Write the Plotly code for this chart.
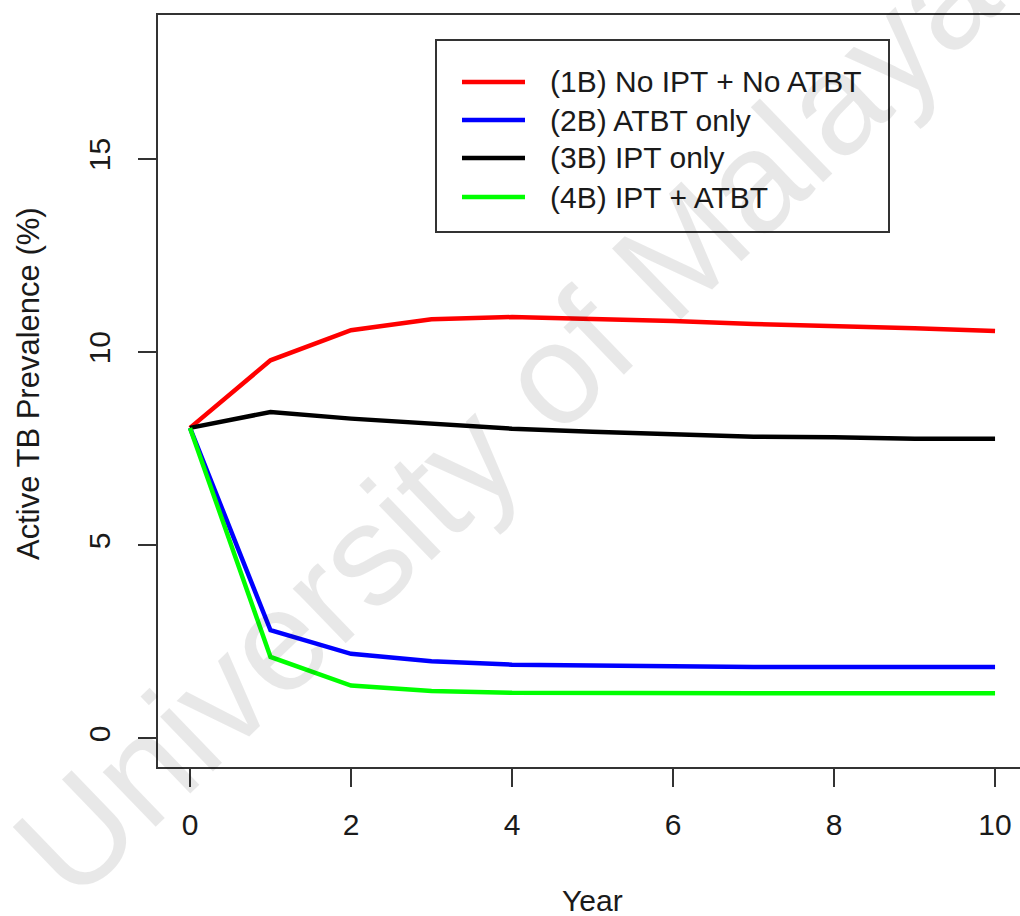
import plotly.graph_objects as go

# ---------------- data ----------------
years = [0, 1, 2, 3, 4, 5, 6, 7, 8, 9, 10]
no_ipt_no_atbt = [8.04, 9.79, 10.57, 10.85, 10.91, 10.87, 10.81, 10.73, 10.68, 10.62, 10.55]
atbt_only = [8.04, 2.80, 2.19, 2.00, 1.91, 1.89, 1.86, 1.85, 1.85, 1.85, 1.85]
ipt_only = [8.04, 8.45, 8.28, 8.15, 8.02, 7.94, 7.87, 7.81, 7.80, 7.76, 7.76]
ipt_atbt = [8.04, 2.11, 1.37, 1.23, 1.18, 1.17, 1.17, 1.17, 1.17, 1.17, 1.17]

series_names = ["(1B) No IPT + No ATBT", "(2B) ATBT only", "(3B) IPT only", "(4B) IPT + ATBT"]
series_values = [no_ipt_no_atbt, atbt_only, ipt_only, ipt_atbt]
series_colors = ["#FF0000", "#0000FF", "#000000", "#00FF00"]

x_ticks = [0, 2, 4, 6, 8, 10]
y_ticks = [0, 5, 10, 15]

# ---------------- layout geometry ----------------
W, H = 1020, 916
L, R, T, B = 158, 0, 15, 149
plot_w = W - L - R
plot_h = H - T - B
XR = [-0.3975, 10.31]
YR = [-0.74, 18.73]
FONT = "Liberation Sans, Arial, sans-serif"


def px2paper(px):
    return (px - L) / plot_w


def py2paper(py):
    return (H - B - py) / plot_h


fig = go.Figure()
for name, vals, col in zip(series_names, series_values, series_colors):
    fig.add_trace(go.Scatter(x=years, y=vals, mode="lines", name=name,
                             line=dict(color=col, width=4.5), showlegend=False))

axis_col = "#333333"
fig.update_layout(
    width=W, height=H,
    margin=dict(l=L, r=R, t=T, b=B, pad=0),
    paper_bgcolor="white", plot_bgcolor="white",
    font=dict(family=FONT, size=30, color="#1a1a1a"),
    xaxis=dict(range=XR, tickvals=x_ticks, ticktext=[str(v) for v in x_ticks],
               showgrid=False, zeroline=False, showline=True, mirror=True,
               linecolor=axis_col, linewidth=2, ticks="outside", ticklen=18,
               tickwidth=2, tickcolor=axis_col, ticklabelstandoff=12,
               tickfont=dict(size=30)),
    yaxis=dict(range=YR, tickvals=y_ticks, ticktext=[str(v) for v in y_ticks],
               showgrid=False, zeroline=False, showline=True, mirror=False,
               linecolor=axis_col, linewidth=2, ticks="outside", ticklen=18,
               tickwidth=2, tickcolor=axis_col, tickangle=-90, ticklabelstandoff=16,
               tickfont=dict(size=30)),
)

annotations = []
# axis titles
annotations.append(dict(text="Year", x=px2paper(592), y=py2paper(900), xref="paper", yref="paper",
                        showarrow=False, xanchor="center", yanchor="middle",
                        font=dict(size=30, family=FONT, color="#1a1a1a")))
annotations.append(dict(text="Active TB Prevalence (%)", x=px2paper(28), y=py2paper(384),
                        xref="paper", yref="paper", showarrow=False, textangle=-90,
                        xanchor="center", yanchor="middle",
                        font=dict(size=31, family=FONT, color="#1a1a1a")))

# manual legend (R style)
shapes = [dict(type="rect", xref="paper", yref="paper",
               x0=px2paper(436), x1=px2paper(889), y0=py2paper(232), y1=py2paper(40),
               line=dict(color=axis_col, width=2), fillcolor="white", layer="above")]
row_y = [82, 120, 158, 197]
for name, col, ry in zip(series_names, series_colors, row_y):
    shapes.append(dict(type="line", xref="paper", yref="paper",
                       x0=px2paper(462), x1=px2paper(525), y0=py2paper(ry), y1=py2paper(ry),
                       line=dict(color=col, width=4.5), layer="above"))
    annotations.append(dict(text=name, x=px2paper(548), y=py2paper(ry), xref="paper", yref="paper",
                            showarrow=False, xanchor="left", yanchor="middle",
                            font=dict(size=30, family=FONT, color="#1a1a1a")))

# watermark
annotations.append(dict(text="University of Malaya", x=px2paper(505), y=py2paper(420),
                        xref="paper", yref="paper", showarrow=False, textangle=-44,
                        xanchor="center", yanchor="middle",
                        font=dict(size=144, family=FONT, color="rgba(0,0,0,0.09)")))

fig.update_layout(shapes=shapes, annotations=annotations)
fig.write_html("out.html")
